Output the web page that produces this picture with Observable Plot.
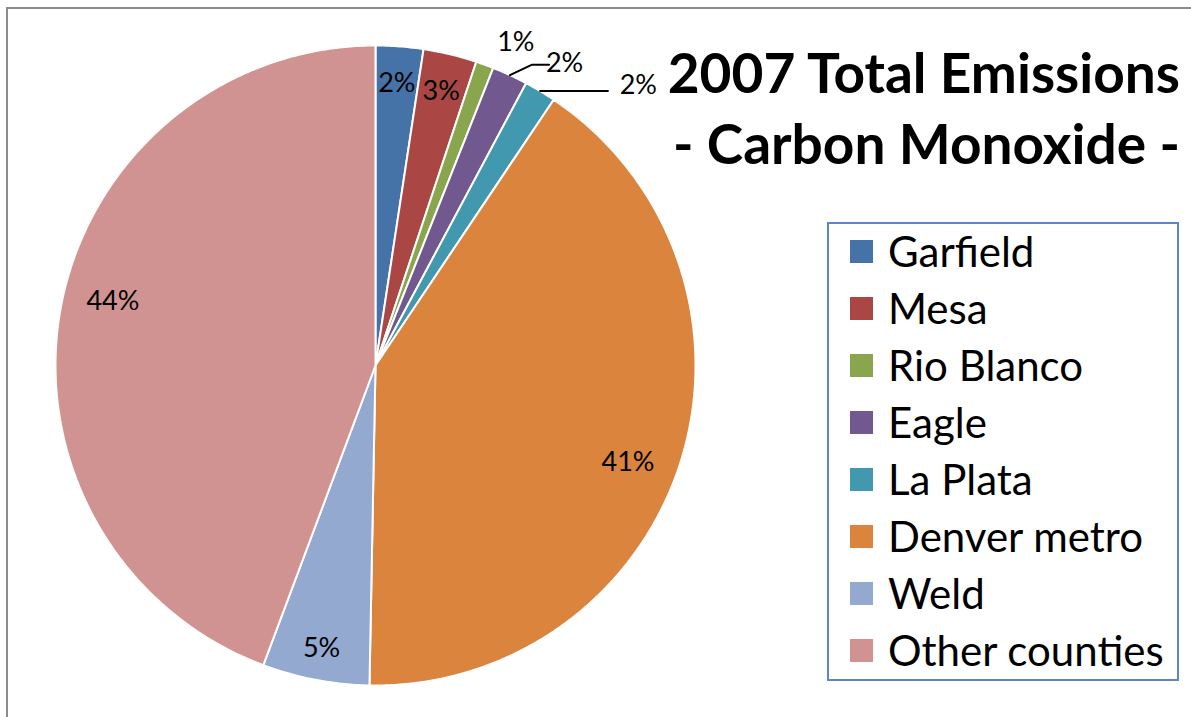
<!DOCTYPE html>
<html>
<head>
<meta charset="utf-8">
<script src="https://cdn.jsdelivr.net/npm/d3@7"></script>
<script src="https://cdn.jsdelivr.net/npm/@observablehq/plot@0.6"></script>
<style>
  html, body { margin: 0; padding: 0; background: #fff; }
  #wrap { position: relative; width: 1191px; height: 717px; overflow: hidden; font-family: Lato, "Open Sans", sans-serif; }
  #frame { position: absolute; left: 6px; top: 7px; right: -10px; bottom: -10px; border-left: 2px solid #8c8c8c; border-top: 2px solid #8c8c8c; }
  #chart { position: absolute; left: 0; top: 0; }
  #title { position: absolute; right: 11px; top: 37px; text-align: right; font-weight: 700; font-size: 55px; line-height: 71px; color: #000; }
  #legend { position: absolute; left: 827px; top: 222px; width: 348px; height: 455px; border: 2px solid #5B87C4; box-sizing: content-box; }
  .item { position: absolute; left: 21px; height: 40px; display: flex; align-items: center; font-size: 42px; color: #000; white-space: nowrap; }
  .sw { width: 23px; height: 23px; margin-right: 15px; flex: none; }
</style>
</head>
<body>
<div id="wrap">
  <div id="frame"></div>
  <div id="chart"></div>
  <div id="title">2007 Total Emissions<br>- Carbon Monoxide -</div>
  <div id="legend"></div>
</div>
<script>
// ---- data ----
const categories = ["Garfield", "Mesa", "Rio Blanco", "Eagle", "La Plata", "Denver metro", "Weld", "Other counties"];
const shares = [2.4, 2.7, 0.9, 1.8, 1.6, 40.9, 5.4, 44.3];
const colors = ["#4572A7", "#AA4643", "#89A54E", "#71588F", "#4198AF", "#DB843D", "#93A9CF", "#D19392"];

// ---- layout (label placement in polar terms: radius fraction, angle in degrees from 12 o'clock) ----
const outsideLabels = {
  "Rio Blanco": {r: 1.10, a: 23.5, leader: null},
  "Eagle": {r: 1.115, a: 32.0, leader: [[1.0, 24.8], [1.06, 27.5], [1.085, 30.0]]},
  "La Plata": {r: 1.20, a: 43.2, leader: [[1.0, 31.5], [1.13, 40.0]]}
};
const insideRadius = {"Garfield": 0.885, "Mesa": 0.88, "Denver metro": 0.845, "Weld": 0.90, "Other counties": 0.845};
const insideAngleShift = {"Denver metro": 3.5, "Other counties": 3.5};

const total = d3.sum(shares);
let cum = 0;
const slices = categories.map((name, i) => {
  const a0 = cum / total * 2 * Math.PI;
  cum += shares[i];
  const a1 = cum / total * 2 * Math.PI;
  return {name, value: shares[i], a0, a1, mid: (a0 + a1) / 2};
});

const px = (r, a) => r * Math.sin(a);
const py = (r, a) => r * Math.cos(a);
const deg = d => d * Math.PI / 180;

// polygon points for each slice (generated from the angles)
const pts = [];
for (const s of slices) {
  pts.push({name: s.name, x: 0, y: 0});
  const n = Math.max(2, Math.ceil((s.a1 - s.a0) / deg(0.5)));
  for (let k = 0; k <= n; k++) {
    const a = s.a0 + (s.a1 - s.a0) * k / n;
    pts.push({name: s.name, x: px(1, a), y: py(1, a)});
  }
  pts.push({name: s.name, x: 0, y: 0});
}

// labels
const labels = slices.map(s => {
  const text = Math.round(s.value / total * 100) + "%";
  if (outsideLabels[s.name]) {
    const o = outsideLabels[s.name];
    return {text, x: px(o.r, deg(o.a)), y: py(o.r, deg(o.a))};
  }
  const r = insideRadius[s.name] ?? 0.87;
  const a = s.mid + deg(insideAngleShift[s.name] ?? 0);
  return {text, x: px(r, a), y: py(r, a)};
});

const leaders = [];
for (const s of slices) {
  const o = outsideLabels[s.name];
  if (o && o.leader) {
    o.leader.forEach(([r, a], k) => {
      const ang = k === 0 ? s.mid : deg(a);
      leaders.push({name: s.name, x: px(r, ang), y: py(r, ang)});
    });
  }
}
// make the leader segments end horizontally
{
  const byName = d3.group(leaders, d => d.name);
  for (const [, arr] of byName) {
    if (arr.length >= 2) arr[arr.length - 1].y = arr[arr.length - 2].y;
  }
  const lp = byName.get("La Plata");
  if (lp) lp[1].y = lp[0].y;
}

const chart = Plot.plot({
  width: 1191,
  height: 717,
  margin: 0,
  x: {domain: [-1, 1], range: [55, 695], axis: null},
  y: {domain: [-1, 1], range: [685, 45], axis: null},
  color: {domain: categories, range: colors},
  style: {background: "transparent"},
  marks: [
    Plot.line(pts, {x: "x", y: "y", z: "name", fill: "name", stroke: "white", strokeWidth: 2, strokeLinejoin: "round"}),
    Plot.line(leaders, {x: "x", y: "y", z: "name", stroke: "black", strokeWidth: 2}),
    Plot.text(labels, {x: "x", y: "y", text: "text", fontSize: 27, fill: "black", fontFamily: "Lato, 'Open Sans', sans-serif"})
  ]
});
document.getElementById("chart").appendChild(chart);

// legend
const legend = document.getElementById("legend");
categories.forEach((c, i) => {
  const it = document.createElement("div");
  it.className = "item";
  it.style.top = (7 + i * 57) + "px";
  const sw = document.createElement("span");
  sw.className = "sw";
  sw.style.background = colors[i];
  it.appendChild(sw);
  it.appendChild(document.createTextNode(c));
  legend.appendChild(it);
});
</script>
</body>
</html>
